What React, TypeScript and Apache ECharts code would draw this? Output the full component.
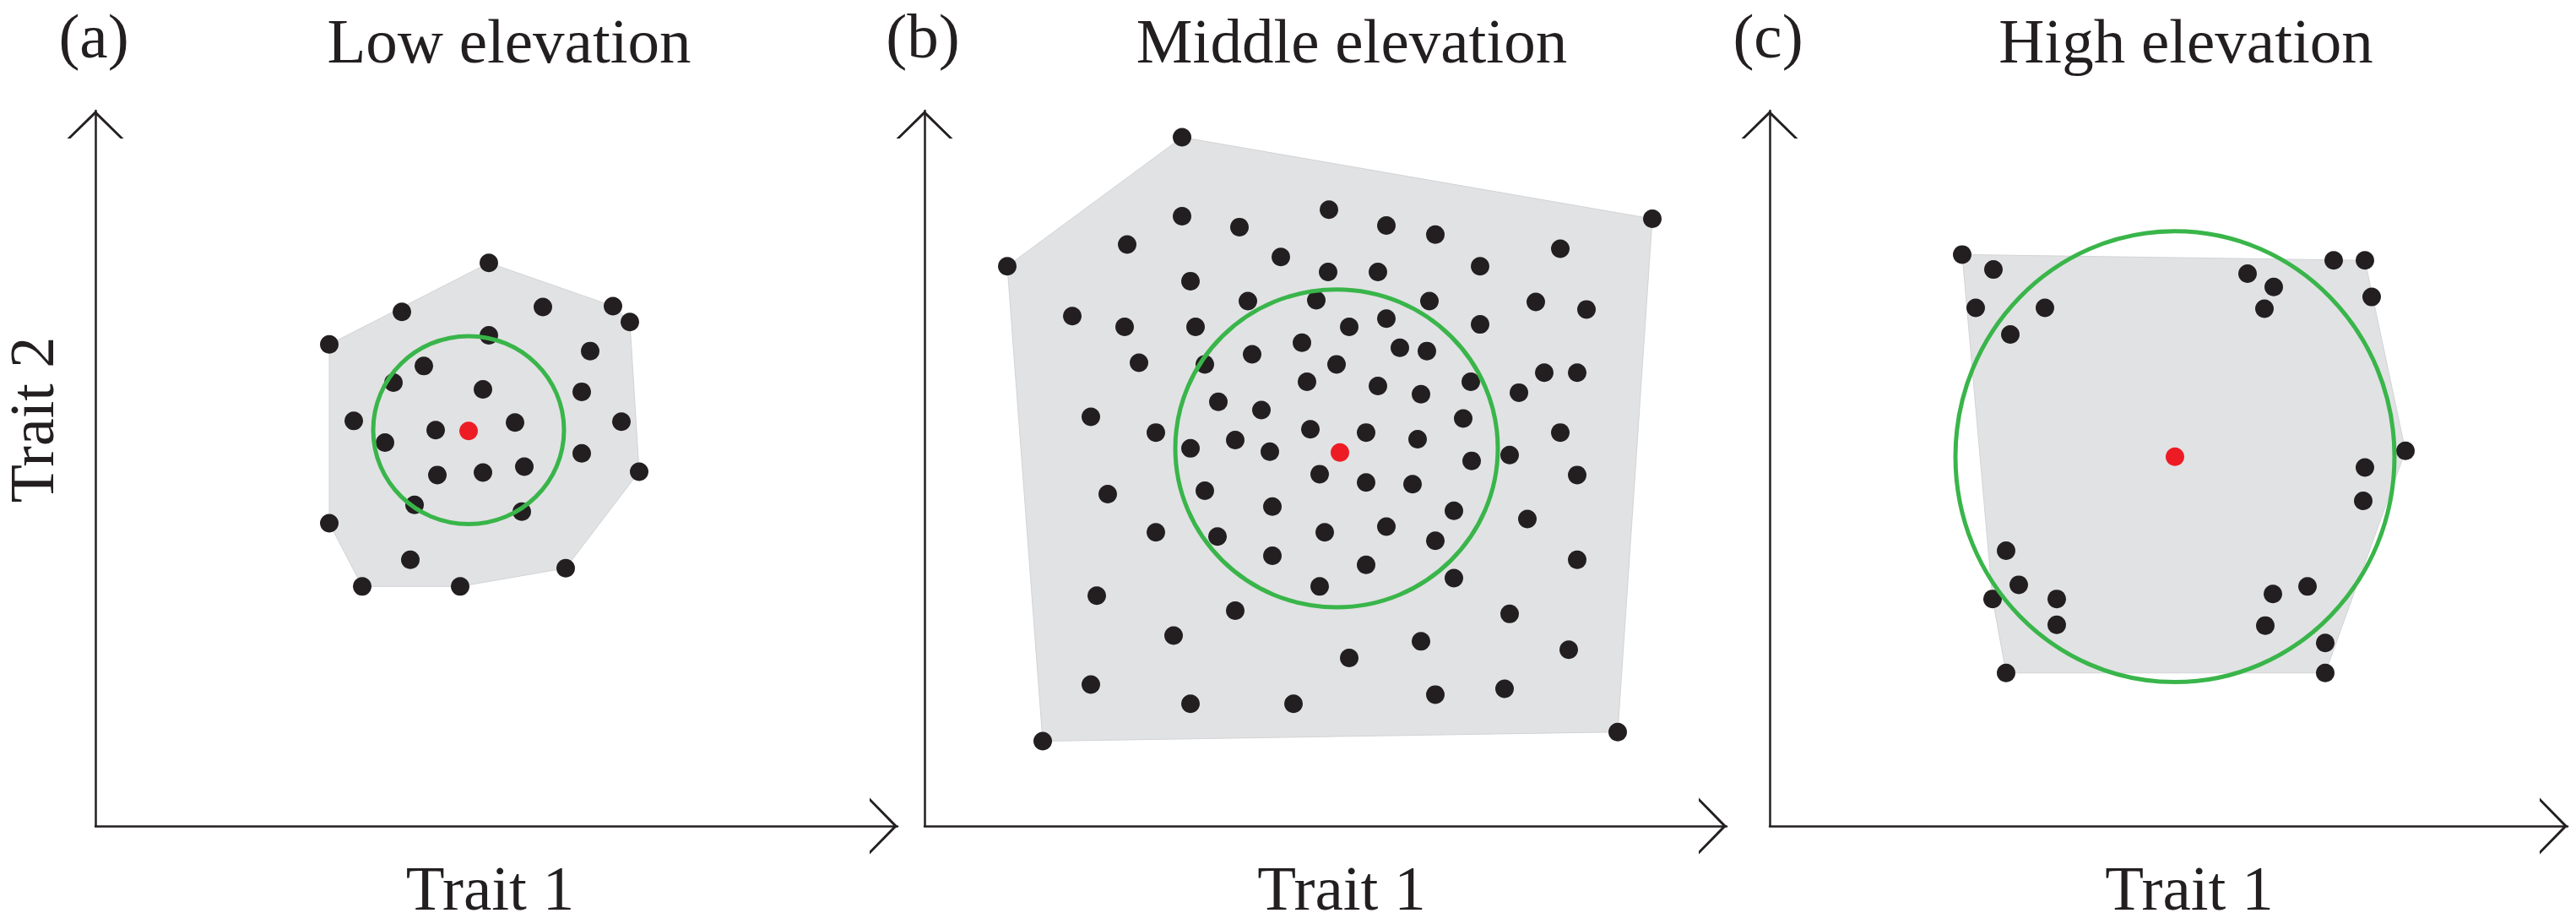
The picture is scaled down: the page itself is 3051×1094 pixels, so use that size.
import React, { useEffect, useRef } from "react";
import * as echarts from "echarts";

const panelLabels = ["(a)", "(b)", "(c)"];
const panelTitles = ["Low elevation", "Middle elevation", "High elevation"];
const xAxisName = "Trait 1";
const yAxisName = "Trait 2";

const lowPoints: number[][] = [
  [46.6, 67.7], [36.3, 61.8], [53.0, 62.4], [61.3, 62.5], [63.3, 60.6], [27.7, 57.9],
  [46.6, 59.0], [58.6, 57.1], [38.9, 55.3], [35.3, 53.3], [45.9, 52.5], [57.6, 52.2],
  [30.6, 48.7], [62.3, 48.6], [40.3, 47.6], [49.7, 48.5], [34.3, 46.1], [57.6, 44.8],
  [40.5, 42.2], [45.9, 42.5], [50.8, 43.2], [64.4, 42.6], [37.8, 38.6], [50.5, 37.8],
  [27.7, 36.4], [37.3, 32.0], [55.7, 31.0], [31.6, 28.8], [43.2, 28.8],
];

const middlePoints: number[][] = [
  [30.5, 82.8], [9.8, 67.3], [30.5, 73.3], [37.3, 72.0], [24.0, 69.9], [47.9, 74.1],
  [42.2, 68.4], [47.8, 66.6], [31.5, 65.5], [38.3, 63.1], [46.4, 63.2], [17.5, 61.3],
  [23.7, 60.0], [32.1, 60.0], [44.7, 58.1], [38.8, 56.7], [25.4, 55.7], [33.2, 55.5],
  [48.8, 55.5], [45.3, 53.4], [34.8, 51.0], [39.9, 50.0], [19.7, 49.2], [45.7, 47.7],
  [27.4, 47.3], [36.8, 46.4], [31.5, 45.4], [40.9, 45.0], [46.8, 42.3], [33.2, 40.3],
  [21.7, 39.9], [41.2, 38.4], [27.4, 35.3], [47.4, 35.3], [34.7, 34.8], [41.2, 32.5],
  [20.4, 27.7], [46.8, 28.8], [36.8, 25.9], [29.5, 22.9], [19.7, 17.0], [31.5, 14.7],
  [43.7, 14.7], [14.0, 10.2], [54.7, 72.2], [60.5, 71.1], [86.2, 73.0], [75.3, 69.4],
  [53.7, 66.6], [65.8, 67.3], [59.8, 63.1], [72.4, 63.0], [78.4, 62.1], [54.7, 61.0],
  [50.3, 60.0], [65.8, 60.3], [56.3, 57.5], [59.5, 57.1], [73.4, 54.5], [77.3, 54.5],
  [64.7, 53.4], [53.7, 52.9], [58.8, 51.9], [70.4, 52.1], [63.8, 49.0], [52.3, 47.3],
  [58.4, 46.5], [75.3, 47.3], [69.3, 44.6], [64.8, 43.9], [77.3, 42.2], [52.3, 41.3],
  [57.8, 41.1], [62.7, 37.9], [71.4, 36.9], [54.7, 36.0], [60.5, 34.3], [77.3, 32.0],
  [52.3, 31.4], [62.7, 29.8], [69.3, 25.5], [58.8, 22.2], [76.3, 21.2], [50.3, 20.2],
  [60.5, 15.8], [68.7, 16.5], [82.1, 11.3],
];

const highPoints: number[][] = [
  [22.8, 68.7], [26.5, 66.9], [24.4, 62.3], [32.6, 62.3], [28.5, 59.1], [56.6, 66.4],
  [59.7, 64.8], [58.6, 62.2], [66.8, 68.0], [70.5, 68.0], [71.3, 63.6], [75.3, 45.1],
  [70.5, 43.1], [70.3, 39.1], [28.0, 33.1], [29.5, 29.0], [26.4, 27.3], [34.0, 27.3],
  [34.0, 24.2], [59.6, 27.9], [63.7, 28.8], [58.7, 24.1], [65.8, 22.0], [28.0, 18.4],
  [65.8, 18.4],
];

const centroids: number[][] = [[44.2, 47.5], [49.2, 44.9], [48.0, 44.4]];
// centre x, centre y, radius along trait 1, radius along trait 2
const dispersion: number[][] = [
  [44.2, 47.6, 11.3, 11.3],
  [48.8, 45.4, 19.1, 19.1],
  [48.0, 44.4, 26.0, 27.1],
];
const xMax = [95, 95, 94.5];
const yMax = 86;

const allPoints = [lowPoints, middlePoints, highPoints];

function convexHull(pts: number[][]): number[][] {
  const p = pts.slice().sort((a, b) => (a[0] === b[0] ? a[1] - b[1] : a[0] - b[0]));
  const cross = (o: number[], a: number[], b: number[]) =>
    (a[0] - o[0]) * (b[1] - o[1]) - (a[1] - o[1]) * (b[0] - o[0]);
  const lower: number[][] = [];
  for (const q of p) {
    while (lower.length >= 2 && cross(lower[lower.length - 2], lower[lower.length - 1], q) <= 0) lower.pop();
    lower.push(q);
  }
  const upper: number[][] = [];
  for (let i = p.length - 1; i >= 0; i--) {
    const q = p[i];
    while (upper.length >= 2 && cross(upper[upper.length - 2], upper[upper.length - 1], q) <= 0) upper.pop();
    upper.push(q);
  }
  upper.pop();
  lower.pop();
  return lower.concat(upper);
}

const INK = "#231F20";
const FONT = "Liberation Serif";
const ARROW = "path://M33.5,0 L67,33 L63,33 L33.5,4.2 L4,33 L0,33 Z";

export default function App() {
  const ref = useRef<HTMLDivElement>(null);

  useEffect(() => {
    if (!ref.current) return;
    const chart = echarts.init(ref.current, undefined, { renderer: "svg" });

    const lefts = [113, 1095, 2096];
    const top = 131;
    const xNamePad = [[0, 15, 0, 0], [0, 0, 0, 38], [0, 0, 0, 49]];
    const titleX = [603, 1601, 2589];

    const axisLine = {
      show: true,
      onZero: false,
      symbol: ["none", ARROW],
      symbolSize: [67, 33],
      symbolOffset: [0, -16.5],
      lineStyle: { color: INK, width: 2.5 },
    };

    const grids: any[] = [];
    const xAxes: any[] = [];
    const yAxes: any[] = [];
    const series: any[] = [];
    const graphics: any[] = [];

    for (let i = 0; i < 3; i++) {
      grids.push({ left: lefts[i], top, width: xMax[i] * 10, height: yMax * 10 });
      xAxes.push({
        type: "value",
        gridIndex: i,
        min: 0,
        max: xMax[i],
        axisLine,
        axisTick: { show: false },
        axisLabel: { show: false },
        splitLine: { show: false },
        name: xAxisName,
        nameLocation: "middle",
        nameGap: 36,
        nameTextStyle: { fontFamily: FONT, fontSize: 75, color: INK, padding: xNamePad[i] },
      });
      yAxes.push({
        type: "value",
        gridIndex: i,
        min: 0,
        max: yMax,
        axisLine,
        axisTick: { show: false },
        axisLabel: { show: false },
        splitLine: { show: false },
      });

      const hull = convexHull(allPoints[i]);
      series.push({
        type: "custom",
        xAxisIndex: i,
        yAxisIndex: i,
        silent: true,
        z: 1,
        data: [hull[0]],
        renderItem: (_p: any, api: any) => ({
          type: "polygon",
          shape: { points: hull.map((h) => api.coord(h)) },
          style: { fill: "#E1E2E4", stroke: "#D2D3D5", lineWidth: 1 },
        }),
      });
      series.push({
        type: "scatter",
        xAxisIndex: i,
        yAxisIndex: i,
        silent: true,
        z: 2,
        symbol: "circle",
        symbolSize: 22,
        itemStyle: { color: INK, opacity: 1 },
        data: allPoints[i],
      });
      series.push({
        type: "custom",
        xAxisIndex: i,
        yAxisIndex: i,
        silent: true,
        z: 3,
        data: [dispersion[i]],
        renderItem: (_p: any, api: any) => {
          const cx = api.value(0);
          const cy = api.value(1);
          const c = api.coord([cx, cy]);
          const ex = api.coord([cx + api.value(2), cy]);
          const ey = api.coord([cx, cy + api.value(3)]);
          return {
            type: "ellipse",
            shape: { cx: c[0], cy: c[1], rx: Math.abs(ex[0] - c[0]), ry: Math.abs(c[1] - ey[1]) },
            style: { fill: "transparent", stroke: "#39B54A", lineWidth: 5 },
          };
        },
      });
      series.push({
        type: "scatter",
        xAxisIndex: i,
        yAxisIndex: i,
        silent: true,
        z: 4,
        symbol: "circle",
        symbolSize: 22,
        itemStyle: { color: "#ED1C24", opacity: 1 },
        data: [centroids[i]],
      });

      graphics.push({
        type: "text",
        x: titleX[i],
        y: 48,
        style: {
          text: panelTitles[i],
          fontFamily: FONT,
          fontSize: 75,
          fill: INK,
          textAlign: "center",
          textVerticalAlign: "middle",
          verticalAlign: "middle",
        },
      });
      graphics.push({
        type: "text",
        x: lefts[i] - 2,
        y: 42,
        style: {
          text: panelLabels[i],
          fontFamily: FONT,
          fontSize: 75,
          fill: INK,
          textAlign: "center",
          textVerticalAlign: "middle",
          verticalAlign: "middle",
        },
      });
    }

    graphics.push({
      type: "text",
      x: 38,
      y: 497,
      rotation: Math.PI / 2,
      style: {
        text: yAxisName,
        fontFamily: FONT,
        fontSize: 74,
        fill: INK,
        textAlign: "center",
        textVerticalAlign: "middle",
        verticalAlign: "middle",
      },
    });

    chart.setOption({
      animation: false,
      backgroundColor: "#ffffff",
      grid: grids,
      xAxis: xAxes,
      yAxis: yAxes,
      series,
      graphic: graphics,
    });

    return () => chart.dispose();
  }, []);

  return (
    <div
      ref={ref}
      style={{ position: "absolute", left: 0, top: 0, width: 3051, height: 1094 }}
    />
  );
}
